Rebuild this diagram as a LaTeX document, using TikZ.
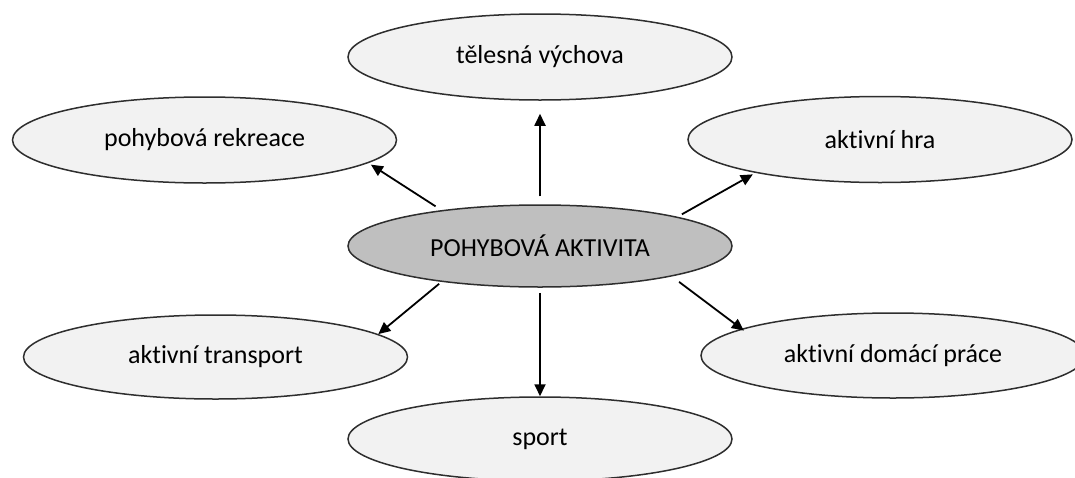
\documentclass[tikz,border=0pt]{standalone}
\usepackage{fontspec}
\setmainfont{Carlito}[Ligatures=NoCommon]
\usetikzlibrary{shapes.geometric,arrows.meta}
\definecolor{lightfill}{HTML}{F2F2F2}
\definecolor{centerfill}{HTML}{BFBFBF}
\definecolor{rim}{HTML}{2E2E2E}
\tikzset{
  bubble/.style={ellipse, draw=rim, line width=1.5pt, fill=lightfill, inner sep=0pt,
    minimum width=384pt, minimum height=86pt, font=\fontsize{26}{30}\selectfont, text=black},
  hub/.style={bubble, fill=centerfill, minimum height=82pt},
  arr/.style={-{Triangle[length=12pt,width=11pt]}, line width=1.8pt, black}
}
\begin{document}
\begin{tikzpicture}[x=1pt,y=-1pt]
\useasboundingbox (0,0) rectangle (1075,477);
\clip (0,0) rectangle (1075,477);
\node[bubble] (tv) at (540,57) {tělesná výchova};
\node[bubble] (pr) at (204.5,140) {pohybová rekreace};
\node[bubble] (ah) at (880,139.5) {aktivní hra};
\node[hub] (pa) at (540,246) {POHYBOVÁ AKTIVITA};
\node[bubble, minimum height=84pt] (at) at (215.5,357) {aktivní transport};
\node[bubble, minimum height=85pt] (adp) at (893,355.5) {aktivní domácí práce};
\node[bubble, minimum height=84pt] (sp) at (540,439) {sport};
\draw[arr, shorten <=8pt, shorten >=13pt] (pa.90) -- (tv.-90);
\draw[arr, shorten <=7pt, shorten >=3pt] (pa.160) -- (pr.-8);
\draw[arr, shorten <=5pt, shorten >=3pt] (pa.12) -- (ah.-165.5);
\draw[arr, shorten <=3pt] (pa.-160) -- (at.8);
\draw[arr, shorten <=5pt] (pa.-90) -- (sp.90);
\draw[arr, shorten <=9pt, shorten >=-3pt] (pa.-13.6) -- (adp.170.7);
\end{tikzpicture}
\end{document}
